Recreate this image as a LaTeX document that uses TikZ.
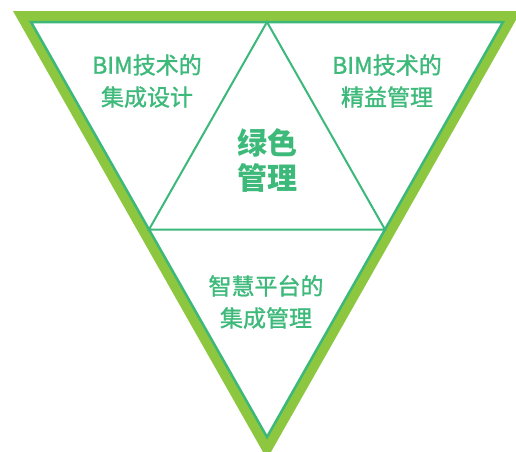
\documentclass[tikz,border=0pt]{standalone}
\usepackage{fontspec}
\setmainfont{Noto Sans CJK SC}
\newfontfamily\medfont[FakeBold=1.2]{Noto Sans CJK SC}
\usetikzlibrary{positioning,calc}
\definecolor{bandgreen}{HTML}{8DC63F}
\definecolor{linegreen}{HTML}{3BB87A}
\definecolor{textgreen}{HTML}{3DB97A}

\begin{document}
\begin{tikzpicture}[
x=1pt, y=-1pt,
band/.style={fill=bandgreen},
edge/.style={draw=linegreen, line width=2.5pt, line join=miter, fill=white},
split/.style={draw=linegreen, line width=2pt},
label/.style={text=textgreen, font=\medfont\fontsize{23}{32}\selectfont, align=center},
core/.style={text=textgreen, font=\bfseries\fontsize{30}{35}\selectfont, align=center}
]
\useasboundingbox (0,0) rectangle (516,451);
\clip (0,0) rectangle (516,451);

% outer band
\fill[band] (13,11) -- (521,11) -- (267,459) -- cycle;

% corners of the inner triangle
\coordinate (tl) at (31,22);
\coordinate (tr) at (503,22);
\coordinate (bot) at (267,437);
\draw[edge] (tl) -- (tr) -- (bot) -- cycle;

% midpoints
\coordinate (top) at ($(tl)!0.5!(tr)$);
\coordinate (left) at ($(tl)!0.5!(bot)$);
\coordinate (right) at ($(tr)!0.5!(bot)$);
\draw[split] (top) -- (left) -- (right) -- cycle;

% texts
\node[label] (design) at (147,81) {BIM技术的\\集成设计};
\node[label] (lean) at (387,81) {BIM技术的\\精益管理};
\node[core] (green) at (267,160) {绿色\\管理};
\node[label] (platform) at (266,302) {智慧平台的\\集成管理};
\end{tikzpicture}
\end{document}
